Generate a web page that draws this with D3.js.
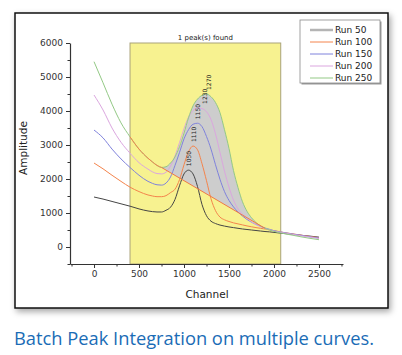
<!DOCTYPE html>
<html><head><meta charset="utf-8">
<script src="https://cdn.jsdelivr.net/npm/d3@7"></script>
<style>html,body{margin:0;padding:0;background:#fff;} svg{display:block;}</style>
</head><body><svg id="c" width="402" height="355"></svg>
<script>
// ---- data ----
const channels = [0,100,200,300,400,500,600,650,700,750,800,850,900,950,1000,1050,1100,1150,1200,1250,1300,1350,1400,1450,1500,1550,1600,1650,1700,1750,1800,1850,1900,1950,2000,2100,2200,2300,2400,2500];
const run50  = [1470,1410,1340,1270,1200,1120,1060,1040,1030,1030,1080,1170,1400,1800,2150,2260,2150,1780,1250,920,760,690,645,615,590,570,550,530,515,500,485,470,455,445,430,400,375,345,320,290];
const run100 = [2470,2300,2110,1930,1760,1630,1530,1500,1480,1480,1510,1600,1700,1980,2420,2800,2970,2860,2450,1950,1420,1070,880,800,750,710,680,650,620,595,570,550,530,505,480,430,390,350,310,275];
const run150 = [3440,3210,2880,2590,2340,2110,1930,1870,1830,1820,1880,2060,2400,2780,3180,3450,3610,3640,3540,3250,2880,2420,1990,1630,1370,1180,1030,910,810,730,665,610,560,520,480,430,385,345,300,265];
const run200 = [4470,4030,3500,3080,2760,2480,2290,2210,2160,2150,2200,2380,2680,3070,3480,3820,4010,4090,4070,3980,3750,3330,2780,2230,1760,1380,1120,960,840,740,660,595,545,505,470,420,375,330,290,250];
const run250 = [5450,4830,4200,3650,3240,2880,2610,2500,2400,2340,2360,2470,2650,2950,3350,3800,4150,4350,4460,4500,4420,4250,3950,3450,2900,2250,1750,1330,1050,860,720,620,550,500,460,400,350,300,255,215];
const seriesNames = ["Run 50","Run 100","Run 150","Run 200","Run 250"];
const peakCenters = [1050,1110,1150,1230,1270];
const peakHeights = [2260,2970,3640,4090,4500];
const roiRange = [400,2075];
const baselineAnchors = [750,1900];
const xTickValues = [-250,0,250,500,750,1000,1250,1500,1750,2000,2250,2500,2750];
const yTickValues = [-500,0,500,1000,1500,2000,2500,3000,3500,4000,4500,5000,5500,6000];
const titleText = "1 peak(s) found";
const captionText = "Batch Peak Integration on multiple curves.";

const series = [run50,run100,run150,run200,run250];
const colors = ["#454545","#f4844c","#7f82dc","#dba6df","#93c985"];
const legendColors = ["#b4b4b4","#f4844c","#7f82dc","#dba6df","#93c985"];

const svg = d3.select("#c");
const defs = svg.append("defs");
const f = defs.append("filter").attr("id","sh").attr("x","-10%").attr("y","-10%").attr("width","130%").attr("height","130%");
f.append("feDropShadow").attr("dx",2).attr("dy",3).attr("stdDeviation",3).attr("flood-color","#000").attr("flood-opacity",0.35);

// outer frame
svg.append("rect").attr("x",15).attr("y",13).attr("width",373).attr("height",295)
  .attr("fill","#fff").attr("stroke","#111").attr("stroke-width",1.5).attr("filter","url(#sh)");

const x = d3.scaleLinear().domain([-267,2767]).range([70,343]);
const y = d3.scaleLinear().domain([-500,6000]).range([264,43]);

// ROI
svg.append("rect").attr("x",x(roiRange[0])).attr("y",y(6000))
  .attr("width",x(roiRange[1])-x(roiRange[0])).attr("height",y(-500)-y(6000))
  .attr("fill","#f7f290").attr("stroke","#aaa37a").attr("stroke-width",1);

// gray integration fill between Run 250 and straight baseline
const gi = series[4];
const i0 = channels.indexOf(baselineAnchors[0]), i1 = channels.indexOf(baselineAnchors[1]);
const b0 = gi[i0], b1 = gi[i1];
const bl = c => b0 + (b1-b0)*(c-baselineAnchors[0])/(baselineAnchors[1]-baselineAnchors[0]);
const fillIdx = d3.range(i0,i1+1);
svg.append("path").datum(fillIdx)
  .attr("d", d3.area().x(i=>x(channels[i])).y0(i=>y(bl(channels[i]))).y1(i=>y(gi[i])).curve(d3.curveMonotoneX))
  .attr("fill","#cdcdcd").attr("stroke","none");

// curves
const line = d3.line().x((d,i)=>x(channels[i])).y(d=>y(d)).curve(d3.curveMonotoneX);
series.forEach((s,k)=>{
  svg.append("path").attr("d",line(s)).attr("fill","none").attr("stroke",colors[k]).attr("stroke-width",1);
});

// baseline overlay (orange)
const ovIdx = channels.map((c,i)=>i).filter(i=>channels[i]>=roiRange[0] && channels[i]<=baselineAnchors[0]);
svg.append("path").datum(ovIdx)
  .attr("d", d3.line().x(i=>x(channels[i])).y(i=>y(gi[i])).curve(d3.curveMonotoneX))
  .attr("fill","none").attr("stroke","#f4844c").attr("stroke-width",1);
svg.append("line").attr("x1",x(baselineAnchors[0])).attr("y1",y(b0))
  .attr("x2",x(baselineAnchors[1])).attr("y2",y(b1))
  .attr("stroke","#f07a45").attr("stroke-width",1);

// peak labels
peakCenters.forEach((c,k)=>{
  const px = x(c), py = y(peakHeights[k]) - 4;
  svg.append("text").attr("transform",`translate(${px},${py}) rotate(-90)`)
    .attr("text-anchor","start").attr("dominant-baseline","central")
    .attr("font-family","DejaVu Sans").attr("font-size",6).attr("fill","#222").text(c);
});

// title
svg.append("text").attr("x",(x(roiRange[0])+x(roiRange[1]))/2).attr("y",40)
  .attr("text-anchor","middle").attr("font-family","DejaVu Sans").attr("font-size",7).attr("fill","#222").text(titleText);

// axes
const yAxis = d3.axisLeft(y).tickValues(yTickValues).tickFormat(d=>d%1000===0?d:"").tickSize(4).tickSizeOuter(0);
const gy = svg.append("g").attr("transform","translate(70,0)").call(yAxis);
const xAxis = d3.axisBottom(x).tickValues(xTickValues).tickFormat(d=>(d>=0&&d%500===0)?d:"").tickSize(4).tickSizeOuter(0);
const gx = svg.append("g").attr("transform","translate(0,264)").call(xAxis);
[gx,gy].forEach(g=>{
  g.select(".domain").attr("stroke","#333").attr("stroke-width",1.2);
  g.selectAll(".tick line").attr("stroke","#333").attr("stroke-width",1);
  g.selectAll(".tick text").attr("font-family","DejaVu Sans").attr("font-size",9).attr("fill","#333");
});
gy.selectAll(".tick").filter(d=>d%1000!==0).select("line").attr("x2",-2.5);
gx.selectAll(".tick").filter(d=>!(d>=0&&d%500===0)).select("line").attr("y2",2.5);
gy.selectAll(".tick text").attr("x",-7);
gx.selectAll(".tick text").attr("y",7);

// axis titles
svg.append("text").attr("transform","translate(27,148) rotate(-90)").attr("text-anchor","middle")
  .attr("font-family","DejaVu Sans").attr("font-size",10.5).attr("fill","#222").text("Amplitude");
svg.append("text").attr("x",207).attr("y",298).attr("text-anchor","middle")
  .attr("font-family","DejaVu Sans").attr("font-size",10.5).attr("fill","#222").text("Channel");

// legend
svg.append("rect").attr("x",301.5).attr("y",21.5).attr("width",80).attr("height",63).attr("fill","#999");
svg.append("rect").attr("x",300).attr("y",20).attr("width",80).attr("height",63).attr("fill","#fff").attr("stroke","#8a8a8a").attr("stroke-width",0.8);
seriesNames.forEach((n,k)=>{
  const ly = 30 + k*12;
  svg.append("line").attr("x1",310).attr("x2",333).attr("y1",ly).attr("y2",ly)
    .attr("stroke",legendColors[k]).attr("stroke-width",k===0?2.5:1);
  svg.append("text").attr("x",335).attr("y",ly).attr("dominant-baseline","central")
    .attr("font-family","DejaVu Sans").attr("font-size",9).attr("fill","#222").text(n);
});

// caption
svg.append("text").attr("x",14).attr("y",345).attr("font-family","Open Sans").attr("font-size",18.5)
  .attr("fill","#1a6cb6").attr("textLength",360).attr("lengthAdjust","spacingAndGlyphs").text(captionText);
</script>
</body></html>
